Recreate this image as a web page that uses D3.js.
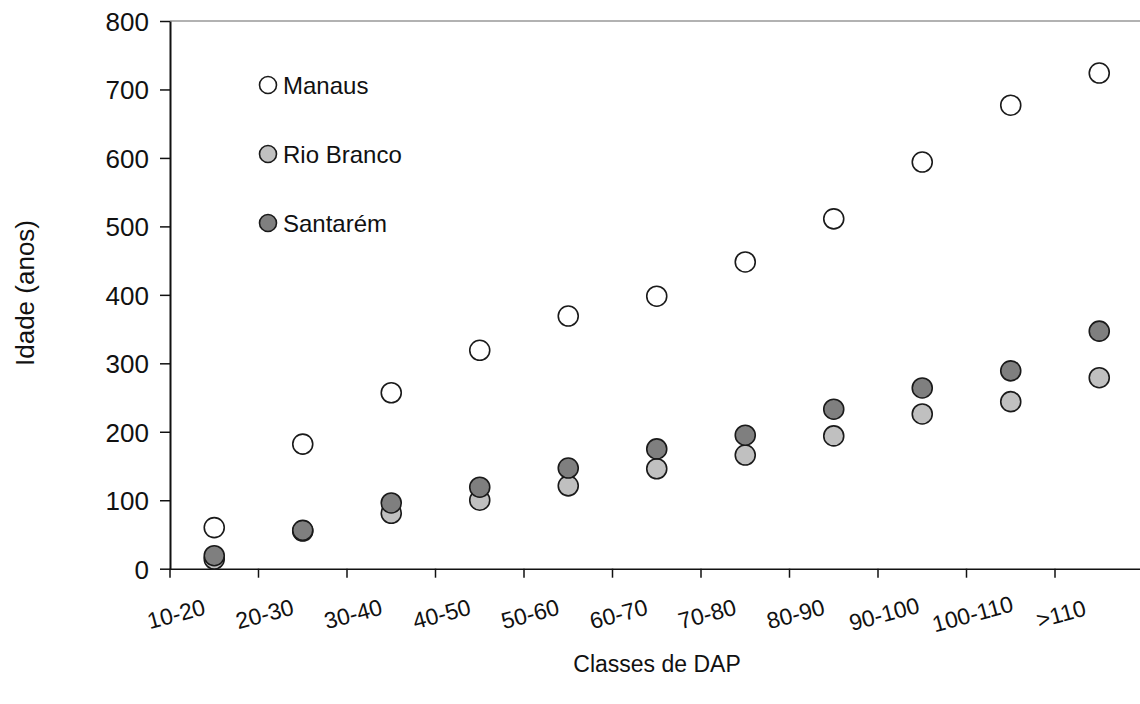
<!DOCTYPE html>
<html lang="pt">
<head>
<meta charset="UTF-8">
<title>Idade por classe de DAP</title>
<style>
  body { margin: 0; background: #fff; }
  svg text { font-family: "Liberation Sans", Arial, sans-serif; fill: #111; }
</style>
</head>
<body>
<script src="https://cdn.jsdelivr.net/npm/d3@7"></script>
<script>
    // classes de DAP and estimated ages (years)
    const classes = ["10-20", "20-30", "30-40", "40-50", "50-60", "60-70", "70-80", "80-90", "90-100", "100-110", ">110"];
    const manaus = [60, 182, 257, 319, 369, 398, 448, 511, 594, 677, 724];
    const rioBranco = [14, 55, 81, 100, 121, 146, 166, 194, 226, 244, 279];
    const santarem = [19, 56, 96, 119, 147, 175, 195, 233, 264, 289, 347];
    const yTicks = [0, 100, 200, 300, 400, 500, 600, 700, 800];

    const series = [
        {name: "Manaus", values: manaus, fill: "#ffffff"},
        {name: "Rio Branco", values: rioBranco, fill: "#c0c0c0"},
        {name: "Santarém", values: santarem, fill: "#7f7f7f"}
    ];

    const W = 1140, H = 704;
    const margin = {top: 21, left: 170, bottom: 135};
    const step = 88.5;

    const svg = d3.select("body").append("svg")
        .attr("width", W)
        .attr("height", H);

    // scales
    const x = d3.scaleBand().domain(classes)
        .range([margin.left, margin.left + step * classes.length]).padding(0);
    const y = d3.scaleLinear().domain([0, 800]).range([H - margin.bottom - 0.3, margin.top]);

    // top frame line
    svg.append("line")
        .attr("x1", margin.left).attr("x2", W)
        .attr("y1", y(800)).attr("y2", y(800))
        .attr("stroke", "#999").attr("stroke-width", 1.5);

    // y axis
    const yAxis = svg.append("g")
        .attr("transform", `translate(${margin.left},0)`)
        .call(d3.axisLeft(y).tickValues(yTicks).tickSize(10).tickPadding(11).tickSizeOuter(0));
    yAxis.select(".domain").attr("stroke", "#111").attr("stroke-width", 2);
    yAxis.selectAll(".tick line").attr("stroke", "#111").attr("stroke-width", 1.5);
    yAxis.selectAll(".tick text").style("font-size", "26px").attr("dy", "0.36em");

    // x axis: boundary ticks between the classes, labels rotated
    const xAxis = svg.append("g")
        .attr("transform", `translate(0,${y(0)})`)
        .call(d3.axisBottom(x).tickSize(0).tickFormat("").tickSizeOuter(0));
    xAxis.select(".domain").attr("stroke", "#111").attr("stroke-width", 1.5)
        .attr("d", `M${margin.left},0.5H${W}`);
    xAxis.selectAll(".tick").remove();

    xAxis.selectAll("line.bound")
        .data(classes)
        .join("line")
            .attr("class", "bound")
            .attr("x1", d => x(d)).attr("x2", d => x(d))
            .attr("y1", 0).attr("y2", 9)
            .attr("stroke", "#111").attr("stroke-width", 1.5);

    xAxis.selectAll("text.lab")
        .data(classes)
        .join("text")
            .attr("class", "lab")
            .attr("text-anchor", "middle")
            .style("font-size", "23px")
            .attr("transform", d => `translate(${x(d) + x.bandwidth() / 2 - 36},${53}) rotate(-15)`)
            .text(d => d);

    // axis titles
    svg.append("text")
        .attr("x", (margin.left + W) / 2 + 2)
        .attr("y", 672)
        .attr("text-anchor", "middle")
        .style("font-size", "23px")
        .text("Classes de DAP");

    svg.append("text")
        .attr("transform", `translate(34,293) rotate(-90)`)
        .attr("text-anchor", "middle")
        .style("font-size", "26px")
        .text("Idade (anos)");

    // points: Manaus, then Rio Branco, Santarém on top
    series.forEach(s => {
        svg.append("g")
            .selectAll("circle")
            .data(s.values)
            .join("circle")
                .attr("cx", (d, i) => x(classes[i]) + x.bandwidth() / 2)
                .attr("cy", d => y(d))
                .attr("r", 10)
                .attr("fill", s.fill)
                .attr("stroke", "#1a1a1a")
                .attr("stroke-width", 1.6);
    });

    // legend
    const legend = svg.append("g").attr("transform", "translate(268,85)");
    const item = legend.selectAll("g")
        .data(series)
        .join("g")
            .attr("transform", (d, i) => `translate(0,${i * 69})`);
    item.append("circle")
        .attr("r", 8.5)
        .attr("fill", d => d.fill)
        .attr("stroke", "#1a1a1a")
        .attr("stroke-width", 1.6);
    item.append("text")
        .attr("x", 15)
        .attr("dy", "0.36em")
        .style("font-size", "24px")
        .text(d => d.name);
</script>
</body>
</html>
